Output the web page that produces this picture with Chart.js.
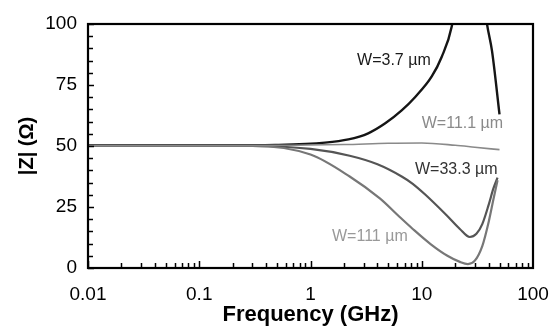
<!DOCTYPE html>
<html>
<head>
<meta charset="utf-8">
<script src="https://cdn.jsdelivr.net/npm/chart.js@4.4.1/dist/chart.umd.min.js"></script>
<style>
html, body { margin: 0; padding: 0; background: #fff; }
</style>
</head>
<body>
<canvas id="myChart" width="555" height="334"></canvas>
<script>
// values (frequency in GHz, |Z| in ohm)
const f37 = [0.01, 0.3, 0.48, 1.35, 2.19, 3.3, 4.7, 6.6, 8.7, 12.3, 15.1, 18.6, 20.5, 27, 35, 38.6, 42.8, 50];
const z37 = [50.3, 50.3, 50.4, 51.4, 52.7, 55.2, 59.3, 64.6, 70, 78.5, 86.5, 99, 112, 220, 115, 100, 89, 63];

const f111 = [0.01, 0.5, 2, 5, 10, 20, 30, 50];
const z111 = [50.3, 50.3, 50.6, 51.1, 51.2, 50.3, 49.5, 48.5];

const f333 = [0.01, 0.3, 1, 2.25, 4, 6.6, 8.3, 10.8, 16.8, 22, 27, 31, 35, 40, 44, 48];
const z333 = [50, 50, 48.8, 46, 42.5, 37.5, 34.5, 30, 21.5, 16, 12.7, 14, 18, 26, 32.5, 37];

const fW111 = [0.01, 0.3, 1, 2.25, 4.2, 6.3, 8.3, 12, 17, 22, 26, 30, 35, 40, 44, 48];
const zW111 = [50, 50, 46.5, 37.5, 28.5, 21, 16, 9.8, 5, 2.5, 1.6, 3, 9, 19, 28, 36];

const seriesNames = ['W=3.7 \u00b5m', 'W=11.1 \u00b5m', 'W=33.3 \u00b5m', 'W=111 \u00b5m'];
const xTicks = [0.01, 0.1, 1, 10, 100];
const xTickLabels = ['0.01', '0.1', '1', '10', '100'];
const yTicks = [0, 25, 50, 75, 100];
const yTickLabels = ['0', '25', '50', '75', '100'];

const FONT = "'Liberation Sans', Arial, sans-serif";

function pts(f, z) {
    return f.map((v, i) => ({ x: v, y: z[i] }));
}

// curve labels, anchored in data units (left edge, middle)
const curveLabels = [
    { text: seriesNames[0], x: 2.62, y: 85.2, color: '#1a1a1a' },
    { text: seriesNames[1], x: 10.0, y: 59, color: '#8a8a8a' },
    { text: seriesNames[2], x: 8.7, y: 40.2, color: '#333' },
    { text: seriesNames[3], x: 1.56, y: 12.7, color: '#999' }
];

const framePlugin = {
    id: 'frame',
    afterDatasetsDraw(chart) {
        const { ctx, chartArea: a, scales: { x, y } } = chart;
        ctx.save();
        ctx.strokeStyle = '#000';
        ctx.lineWidth = 1.5;
        // inner ticks on y
        for (let v = 0; v <= 100; v += 5) {
            const py = Math.round(y.getPixelForValue(v)) + 0.5;
            ctx.beginPath();
            ctx.moveTo(a.left, py);
            ctx.lineTo(a.left + (v % 25 ? 5 : 6), py);
            ctx.stroke();
        }
        // inner ticks on x (log)
        [0.01, 0.1, 1, 10].forEach(d => {
            for (let k = 1; k < 10; k++) {
                const px = Math.round(x.getPixelForValue(d * k)) + 0.5;
                ctx.beginPath();
                ctx.moveTo(px, a.bottom);
                ctx.lineTo(px, a.bottom - (k === 1 ? 7 : 5));
                ctx.stroke();
            }
        });
        ctx.lineWidth = 2.2;
        ctx.strokeRect(a.left, a.top, a.right - a.left, a.bottom - a.top);

        ctx.font = '16px ' + FONT;
        ctx.textBaseline = 'middle';
        ctx.textAlign = 'left';
        curveLabels.forEach(l => {
            ctx.fillStyle = l.color;
            ctx.fillText(l.text, x.getPixelForValue(l.x), y.getPixelForValue(l.y));
        });
        ctx.restore();
    }
};

function noPad(scale) {
    scale.paddingLeft = 0;
    scale.paddingRight = 0;
    scale.paddingTop = 0;
    scale.paddingBottom = 0;
}

const ctx = document.getElementById('myChart').getContext('2d');
const myChart = new Chart(ctx, {
    type: 'line',
    data: {
        datasets: [
            { label: seriesNames[1], data: pts(f111, z111), borderColor: '#8a8a8a', borderWidth: 1.6 },
            { label: seriesNames[3], data: pts(fW111, zW111), borderColor: '#777', borderWidth: 2.2 },
            { label: seriesNames[2], data: pts(f333, z333), borderColor: '#555', borderWidth: 2.2 },
            { label: seriesNames[0], data: pts(f37, z37), borderColor: '#151515', borderWidth: 2.4 }
        ]
    },
    options: {
        responsive: false,
        animation: false,
        devicePixelRatio: 1,
        datasets: {
            line: { pointRadius: 0, fill: false, cubicInterpolationMode: 'monotone' }
        },
        layout: { padding: { top: 24, right: 22, left: 0, bottom: 0 } },
        plugins: {
            legend: { display: false },
            tooltip: { enabled: false }
        },
        scales: {
            x: {
                type: 'logarithmic',
                position: 'bottom',
                min: 0.01,
                max: 100,
                grid: { display: false, drawTicks: false },
                border: { display: false },
                afterBuildTicks: (scale) => { scale.ticks = xTicks.map(v => ({ value: v })); },
                afterFit: (scale) => { scale.height = 66; noPad(scale); },
                ticks: {
                    autoSkip: false,
                    maxRotation: 0,
                    padding: 15,
                    color: '#000',
                    font: { family: FONT, size: 19 },
                    callback: (v, i) => xTickLabels[i]
                },
                title: {
                    display: true,
                    text: 'Frequency (GHz)',
                    color: '#000',
                    font: { family: FONT, size: 22, weight: 'bold' },
                    padding: { top: 0, bottom: 6 }
                }
            },
            y: {
                min: 0,
                max: 100,
                grid: { display: false, drawTicks: false },
                border: { display: false },
                afterBuildTicks: (scale) => { scale.ticks = yTicks.map(v => ({ value: v })); },
                afterFit: (scale) => { scale.width = 88; noPad(scale); },
                ticks: {
                    padding: 11,
                    color: '#000',
                    font: { family: FONT, size: 19 },
                    callback: (v, i) => yTickLabels[i]
                },
                title: {
                    display: true,
                    text: '|Z| (\u03a9)',
                    color: '#000',
                    font: { family: FONT, size: 20, weight: 'bold' },
                    padding: { top: 15, bottom: 0 }
                }
            }
        }
    },
    plugins: [framePlugin]
});
</script>
</body>
</html>
